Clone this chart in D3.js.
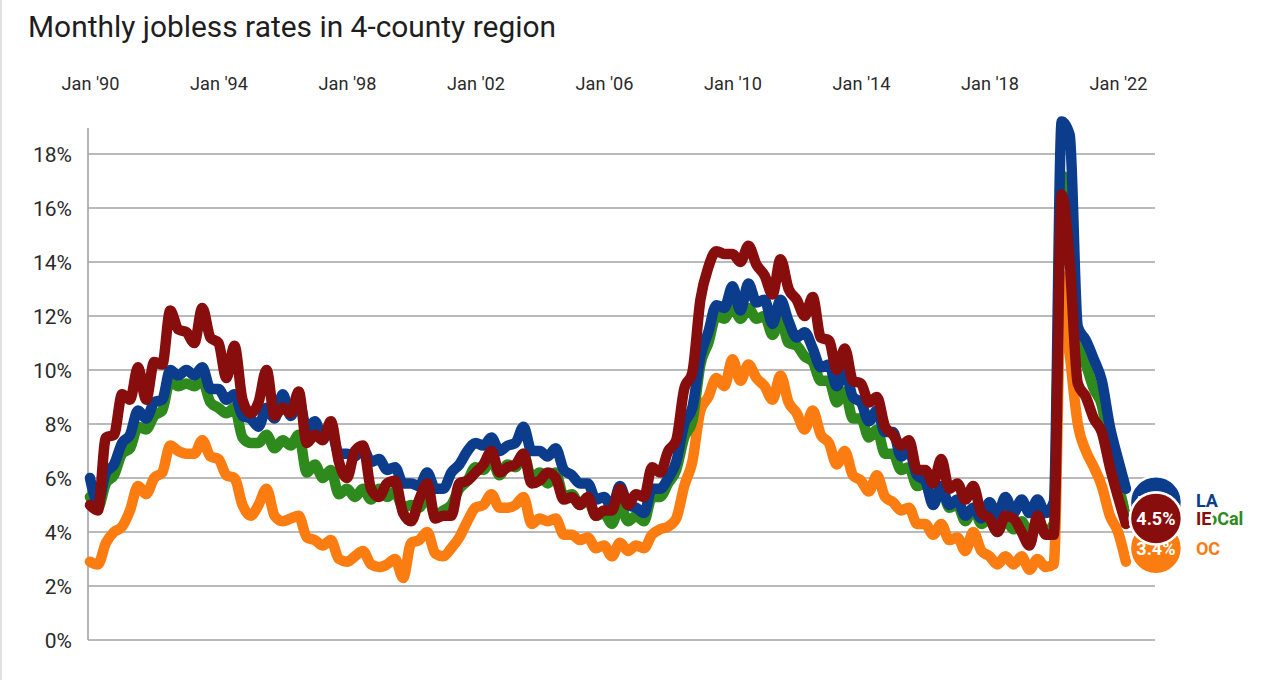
<!DOCTYPE html>
<html>
<head>
<meta charset="utf-8">
<script src="https://cdn.jsdelivr.net/npm/d3@7"></script>
<style>
  html, body { margin: 0; padding: 0; background: #fff; }
  svg { display: block; font-family: Roboto, "Noto Sans", sans-serif; }
</style>
</head>
<body>
<svg id="chart" width="1280" height="680"></svg>
<script>
// ---------- DATA (quarterly readings: Jan, Apr, Jul, Oct) ----------
const startDate = new Date(1990, 0, 1);
const endDate = new Date(2022, 4, 1);
const dates = d3.timeMonth.range(startDate, endDate, 3); // Jan 1990 ... Apr 2022

const xTickYears = [1990, 1994, 1998, 2002, 2006, 2010, 2014, 2018, 2022];
const xTickLabels = ["Jan '90", "Jan '94", "Jan '98", "Jan '02", "Jan '06", "Jan '10", "Jan '14", "Jan '18", "Jan '22"];
const yTicks = [0, 2, 4, 6, 8, 10, 12, 14, 16, 18];

const seriesNames = ["OC", "SoCal", "LA", "IE"];
const seriesColors = ["#fb7d12", "#2f8a1d", "#0c3c8c", "#880d0d"];

const laValues = [
  6.0, 5.1, 6.2, 6.5,   7.3, 7.6, 8.5, 8.2,   8.8, 8.9, 10.0, 9.8,   10.0, 9.8, 10.1, 9.3,
  9.3, 8.9, 9.1, 8.3,   8.2, 7.9, 8.6, 8.2,   9.1, 8.3, 8.9, 7.8,    8.1, 7.5, 7.8, 6.9,
  6.9, 6.8, 7.1, 6.6,   6.7, 6.3, 6.4, 5.8,   5.8, 5.7, 6.2, 5.6,    5.6, 6.2, 6.5, 7.0,
  7.3, 7.2, 7.5, 7.0,   7.2, 7.3, 7.9, 7.0,   7.0, 6.8, 7.1, 6.3,    6.1, 5.8, 5.8, 5.2,
  5.3, 4.9, 5.7, 5.0,   4.9, 4.7, 5.6, 5.6,   6.0, 6.6, 8.0, 8.6,    10.5, 11.4, 12.4, 12.3,
  13.1, 12.2, 13.2, 12.5, 12.6, 11.7, 12.6, 11.8, 11.2, 11.4, 10.8, 10.1, 10.2, 9.4, 10.0, 9.0,
  8.8, 8.1, 8.5, 7.7,   7.7, 6.8, 7.0, 6.1,   5.9, 5.0, 5.7, 5.0,    5.2, 4.6, 4.9, 4.5,
  5.1, 4.6, 5.3, 4.7,   5.2, 4.7, 5.2, 4.7,   5.1, 19.2, 18.7, 11.6, 11.1, 10.4, 9.6, 7.9,
  6.7, 5.6
];
const socalValues = [
  5.3, 4.9, 5.8, 6.1,   6.9, 7.1, 7.9, 7.8,   8.3, 8.5, 9.6, 9.4,    9.5, 9.4, 9.6, 8.8,
  8.6, 8.4, 8.6, 7.5,   7.3, 7.3, 7.6, 7.1,   7.4, 7.2, 7.6, 6.2,    6.5, 6.0, 6.3, 5.4,
  5.6, 5.3, 5.6, 5.2,   5.6, 5.3, 5.5, 4.9,   5.0, 4.9, 5.4, 4.6,    4.8, 5.0, 5.6, 5.9,
  6.4, 6.3, 6.7, 6.1,   6.5, 6.4, 6.9, 6.0,   6.2, 5.8, 6.2, 5.3,    5.4, 5.0, 5.2, 4.6,
  4.7, 4.3, 5.0, 4.4,   4.6, 4.4, 5.3, 5.3,   5.8, 6.3, 7.5, 8.1,    10.2, 11.0, 12.0, 11.9,
  12.4, 11.9, 12.3, 11.9, 12.0, 11.3, 11.9, 11.0, 10.9, 10.5, 10.3, 9.6, 9.6, 8.8, 9.2, 8.2,
  8.2, 7.5, 7.8, 6.9,   6.9, 6.3, 6.4, 5.7,   5.8, 5.1, 5.6, 4.9,    5.0, 4.4, 4.9, 4.3,
  4.5, 4.0, 4.5, 4.1,   4.4, 3.9, 4.4, 4.0,   4.3, 17.2, 16.5, 11.0, 10.2, 9.3, 8.7, 7.0,
  5.8, 4.6
];
const ieValues = [
  5.0, 4.8, 7.5, 7.6,   9.1, 8.9, 10.1, 8.9,  10.3, 10.2, 12.2, 11.5, 11.4, 11.0, 12.3, 11.2,
  11.0, 9.7, 10.9, 8.9, 8.4, 8.8, 10.0, 8.3,  8.6, 8.4, 9.2, 7.3,    7.6, 7.4, 8.1, 6.6,
  6.0, 7.0, 7.2, 5.6,   5.3, 5.8, 5.9, 4.7,   4.4, 5.2, 5.8, 4.5,    4.6, 4.6, 5.8, 5.9,
  6.2, 6.5, 7.0, 6.2,   6.4, 6.5, 6.9, 5.8,   5.9, 6.2, 6.0, 5.2,    5.3, 5.0, 5.3, 4.6,
  4.8, 4.8, 5.6, 5.0,   5.4, 5.3, 6.4, 6.2,   7.0, 7.4, 9.3, 9.9,    12.6, 13.8, 14.4, 14.3,
  14.3, 14.0, 14.6, 13.9, 13.5, 12.8, 14.1, 13.0, 12.6, 12.0, 12.7, 11.2, 11.1, 10.0, 10.8, 9.6,
  9.5, 8.8, 9.0, 7.9,   7.6, 7.2, 7.4, 6.3,   6.3, 5.8, 6.7, 5.6,    5.8, 5.2, 5.7, 4.7,
  4.5, 4.0, 4.6, 4.5,   4.0, 3.5, 4.6, 3.9,   3.9, 16.5, 14.0, 9.5,  9.0, 8.2, 7.7, 6.4,
  5.3, 4.3
];
const ocValues = [
  2.9, 2.8, 3.6, 4.0,   4.2, 4.8, 5.7, 5.4,   6.0, 6.2, 7.2, 7.0,    6.9, 6.9, 7.4, 6.8,
  6.7, 6.1, 6.0, 5.0,   4.6, 5.0, 5.6, 4.6,   4.4, 4.5, 4.6, 3.8,    3.7, 3.5, 3.7, 3.0,
  2.9, 3.1, 3.3, 2.8,   2.7, 2.8, 3.0, 2.3,   3.6, 3.7, 4.0, 3.2,    3.1, 3.4, 3.8, 4.4,
  4.9, 5.0, 5.4, 4.9,   4.9, 5.0, 5.3, 4.3,   4.5, 4.4, 4.5, 3.9,    3.9, 3.7, 3.8, 3.4,
  3.5, 3.1, 3.6, 3.3,   3.5, 3.4, 3.9, 4.1,   4.2, 4.5, 5.7, 6.6,    8.5, 9.0, 9.7, 9.4,
  10.4, 9.6, 10.2, 9.7, 9.4, 8.9, 9.8, 8.8,   8.4, 7.8, 8.5, 7.6,    7.3, 6.5, 7.0, 6.1,
  5.9, 5.5, 6.1, 5.3,   5.1, 4.8, 4.9, 4.3,   4.3, 3.9, 4.3, 3.7,    3.8, 3.3, 4.0, 3.3,
  3.1, 2.8, 3.1, 2.8,   3.1, 2.6, 3.0, 2.7,   2.8, 13.5, 10.6, 8.0,  7.0, 6.4, 5.7, 4.6,
  4.0, 2.9
];

// latest readings shown in the end bubbles
const latestNames = ["LA", "SoCal", "OC", "IE"];
const latestValues = [5.1, 4.5, 3.4, 4.5];
const latestColors = ["#0c3c8c", "#2f8a1d", "#fb7d12", "#880d0d"];

const seriesValues = [ocValues, socalValues, laValues, ieValues];

// ---------- CHART ----------
const svg = d3.select("#chart");

// light frame line at left edge
svg.append("line").attr("x1", 1).attr("x2", 1).attr("y1", 0).attr("y2", 680)
  .attr("stroke", "#e2e2e2").attr("stroke-width", 2);

const x = d3.scaleTime()
  .domain([new Date(1990, 0, 1), new Date(2022, 0, 1)])
  .range([90, 1118]);
const y = d3.scaleLinear().domain([0, 18]).range([640, 154]);

const gridLeft = 88, gridRight = 1155;

// title
svg.append("text")
  .attr("x", 28).attr("y", 37)
  .attr("font-size", 30).attr("font-weight", 400)
  .attr("fill", "#1e1e1e")
  .attr("textLength", 528).attr("lengthAdjust", "spacingAndGlyphs")
  .text("Monthly jobless rates in 4-county region");

// grid lines
svg.append("g").selectAll("line").data(yTicks).join("line")
  .attr("x1", gridLeft).attr("x2", gridRight)
  .attr("y1", d => y(d)).attr("y2", d => y(d))
  .attr("stroke", "#a3a3a3").attr("stroke-width", 1.6);

// y axis line
svg.append("line").attr("x1", gridLeft).attr("x2", gridLeft)
  .attr("y1", 128).attr("y2", 640)
  .attr("stroke", "#a3a3a3").attr("stroke-width", 1.6);

// y axis labels
const yAxis = d3.axisLeft(y).tickValues(yTicks).tickSize(0).tickPadding(0)
  .tickFormat(d => d + "%");
const yg = svg.append("g").attr("transform", "translate(72,0)").call(yAxis);
yg.select(".domain").remove();
yg.selectAll("text").attr("font-size", 21).attr("fill", "#2a2a2a")
  .attr("font-family", "Roboto, sans-serif").attr("dy", "0.36em");

// x axis labels (top)
const xAxis = d3.axisTop(x)
  .tickValues(xTickYears.map(yr => new Date(yr, 0, 1)))
  .tickSize(0).tickPadding(0)
  .tickFormat((d, i) => xTickLabels[i]);
const xg = svg.append("g").attr("transform", "translate(0,90)").call(xAxis);
xg.select(".domain").remove();
xg.selectAll("text").attr("font-size", 18).attr("fill", "#2a2a2a")
  .attr("font-family", "Roboto, sans-serif").attr("dy", 0)
  .attr("textLength", 58).attr("lengthAdjust", "spacingAndGlyphs");

// lines
const line = d3.line()
  .x((d, i) => x(dates[i]))
  .y(d => y(d))
  .curve(d3.curveMonotoneX);

const linesG = svg.append("g");
seriesValues.forEach((vals, k) => {
  linesG.append("path").datum(vals)
    .attr("d", line).attr("fill", "none")
    .attr("stroke", seriesColors[k]).attr("stroke-width", 10.5)
    .attr("stroke-linejoin", "round").attr("stroke-linecap", "round");
});

// end bubbles
const lastX = x(dates[dates.length - 1]);
const cx = lastX + 30;
const bubbles = svg.append("g");
latestNames.forEach((name, k) => {
  const g = bubbles.append("g");
  g.append("circle").attr("cx", cx).attr("cy", y(latestValues[k])).attr("r", 26)
    .attr("fill", latestColors[k]).attr("stroke", "#fff").attr("stroke-width", 2.5);
  g.append("text").attr("x", cx).attr("y", y(latestValues[k]))
    .attr("dy", "0.36em").attr("text-anchor", "middle")
    .attr("font-size", 18).attr("font-weight", 700).attr("fill", "#fff")
    .text(latestValues[k].toFixed(1) + "%");
});

// end labels
const labelOrder = ["LA", "SoCal", "IE", "OC"];
labelOrder.forEach(name => {
  const k = latestNames.indexOf(name);
  svg.append("text")
    .attr("x", cx + 40).attr("y", y(latestValues[k]) + (name === "LA" ? -2 : 0))
    .attr("dy", "0.36em")
    .attr("font-size", 18).attr("font-weight", 700)
    .attr("fill", latestColors[k])
    .attr("stroke", "#fff").attr("stroke-width", 4).attr("paint-order", "stroke")
    .text(name);
});
</script>
</body>
</html>
